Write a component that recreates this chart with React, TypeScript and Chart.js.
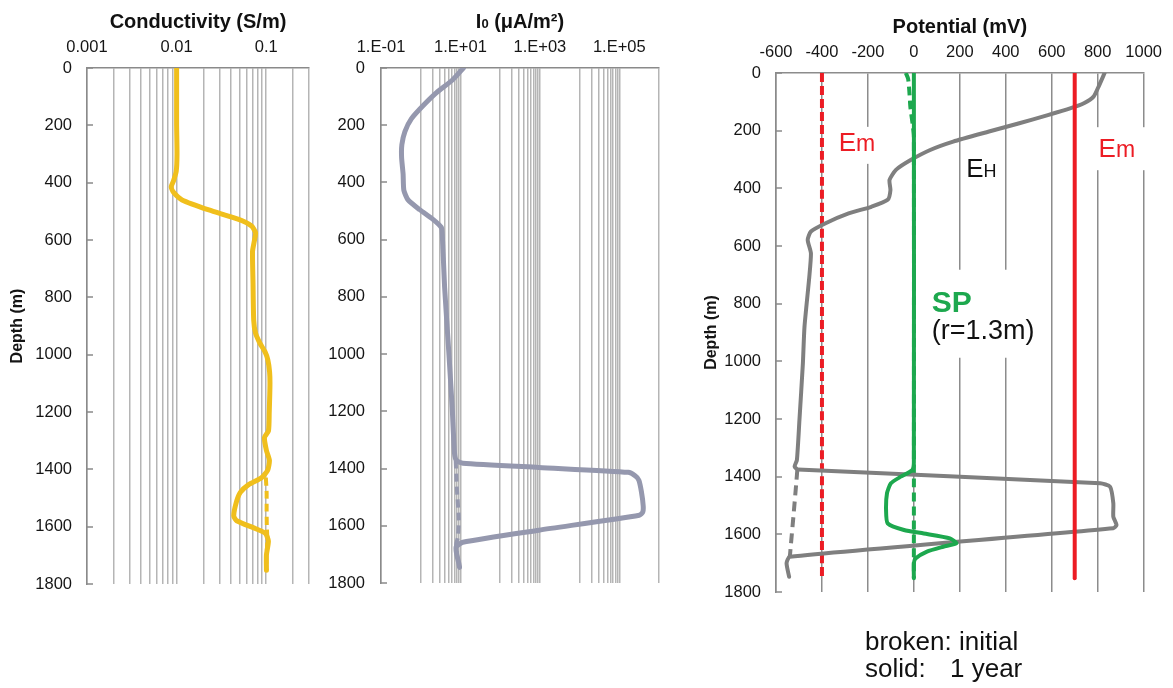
import React, { useEffect, useRef } from 'react';
import { Chart, registerables } from 'chart.js';

Chart.register(...registerables);

const FONT = '"Liberation Sans", Arial, Helvetica, sans-serif';
const TEXT = '#151515';
Chart.defaults.font.family = FONT;
Chart.defaults.color = TEXT;

// ---------------- shared depth axis ----------------
const depthTicks = [0, 200, 400, 600, 800, 1000, 1200, 1400, 1600, 1800];

// ---------------- Conductivity (S/m) ----------------
const condGridValues = [0.001, 0.002, 0.003, 0.004, 0.005, 0.006, 0.007, 0.008, 0.009, 0.01, 0.02, 0.03, 0.04, 0.05, 0.06, 0.07, 0.08, 0.09, 0.1, 0.2, 0.3];
const condMajor = [0.001, 0.01, 0.1];
const condMajorLabels = ['0.001', '0.01', '0.1'];
const condDepth1y = [0, 100, 200, 300, 360, 395, 415, 435, 460, 495, 528, 551, 575, 605, 640, 750, 880, 925, 960, 990, 1017, 1060, 1107, 1200, 1265, 1289, 1334, 1368, 1402, 1429, 1453, 1480, 1514, 1562, 1579, 1606, 1623, 1650, 1698, 1752];
const cond1y = [0.01, 0.01, 0.01, 0.0101, 0.0099, 0.0092, 0.0087, 0.0093, 0.0115, 0.0229, 0.0493, 0.0686, 0.076, 0.0735, 0.0703, 0.0712, 0.0725, 0.076, 0.085, 0.097, 0.104, 0.109, 0.11, 0.108, 0.106, 0.0955, 0.1005, 0.1085, 0.104, 0.0885, 0.0636, 0.0514, 0.0464, 0.0434, 0.0468, 0.0754, 0.098, 0.1057, 0.1005, 0.1005];
const condDepthInit = [1429, 1480, 1540, 1600, 1650, 1700, 1752];
const condInit = [0.099, 0.101, 0.101, 0.1015, 0.103, 0.1005, 0.1005];

// ---------------- I0 (uA/m2) ----------------
const ioGridValues = [0.1, 1, 2, 3, 4, 5, 6, 7, 8, 9, 10, 100, 200, 300, 400, 500, 600, 700, 800, 900, 1000, 10000, 20000, 30000, 40000, 50000, 60000, 70000, 80000, 90000, 100000, 1000000];
const ioMajor = [0.1, 10, 1000, 100000];
const ioMajorLabels = ['1.E-01', '1.E+01', '1.E+03', '1.E+05'];
const ioDepth1y = [0, 41, 86, 132, 177, 222, 268, 313, 370, 427, 461, 495, 528, 557, 585, 767, 994, 1187, 1346, 1372, 1381, 1396, 1413, 1425, 1440, 1480, 1530, 1552, 1563, 1615, 1657, 1674, 1697, 1731, 1745];
const io1y = [11.9, 6.4, 2.5, 1.14, 0.585, 0.4, 0.335, 0.33, 0.36, 0.376, 0.48, 0.94, 2.0, 3.3, 3.5, 4.0, 5.1, 6.2, 7.1, 8, 11.5, 944, 168000, 250000, 310000, 360000, 400000, 390000, 320000, 944, 11.5, 7.8, 8.0, 9.1, 9.5];
const ioDepthInit = [1372, 1465, 1579, 1640, 1665, 1700, 1745];
const ioInit = [7.6, 8.1, 9.1, 8.6, 7.8, 8.2, 9.5];

// ---------------- Potential (mV) ----------------
const potTicks = [-600, -400, -200, 0, 200, 400, 600, 800, 1000];
const ehDepth1y = [0, 47, 82, 105, 122, 146, 175, 203, 238, 267, 302, 336, 371, 406, 440, 464, 487, 521, 550, 579, 625, 706, 880, 1007, 1204, 1342, 1365, 1375, 1423, 1435, 1492, 1539, 1568, 1579, 1678, 1700, 1747];
const eh1y = [830, 804, 782, 740, 683, 583, 455, 327, 171, 71, -14, -78, -106, -102, -114, -185, -284, -384, -448, -462, -448, -455, -476, -483, -498, -509, -519, -505, 811, 854, 868, 868, 882, 868, -540, -554, -543];
const ehDepthInit = [1375, 1414, 1527, 1643, 1680];
const ehInit = [-507, -511, -523, -536, -540];
const spDepth1y = [0, 1350, 1377, 1400, 1423, 1458, 1516, 1562, 1585, 1597, 1614, 1631, 1643, 1660, 1684, 1700, 1752];
const sp1y = [0, 0, -7, -57, -100, -117, -121, -114, -43, 43, 157, 185, 128, 57, 7, 0, 0];
const spDepthInit = [0, 20, 60, 120, 180, 220, 1752];
const spInit = [-35, -25, -20, -15, -5, 0, 0];
const emDepth = [0, 1752];
const em1y = [700, 700];
const emInit = [-400, -400];

// ---------------- colours ----------------
const YELLOW = '#F0BF1C';
const IOCOL = '#9598AE';
const EHCOL = '#7f7f7f';
const RED = '#EC1C24';
const GREEN = '#1DA84E';
const LIGHTGRID = '#b5b5b5';
const DARKGRID = '#8c8c8c';
const AXIS = '#8a8a8a';

type Pt = { x: number; y: number };
const pts = (depths: number[], vals: number[]): Pt[] => depths.map((d, i) => ({ x: vals[i], y: d }));

type Run = { text: string; font: string };
function drawRuns(ctx: CanvasRenderingContext2D, runs: Run[], x: number, y: number, color: string, align: 'left' | 'center' = 'left') {
  let total = 0;
  for (const r of runs) { ctx.font = r.font; total += ctx.measureText(r.text).width; }
  let cx = align === 'center' ? x - total / 2 : x;
  ctx.fillStyle = color;
  ctx.textAlign = 'left';
  ctx.textBaseline = 'alphabetic';
  for (const r of runs) { ctx.font = r.font; ctx.fillText(r.text, cx, y); cx += ctx.measureText(r.text).width; }
  return total;
}

function drawInnerTicks(chart: any, color: string) {
  const { ctx, chartArea } = chart;
  const ys = chart.scales.y;
  ctx.save();
  ctx.strokeStyle = color;
  ctx.lineWidth = 1.5;
  for (const d of depthTicks) {
    const y = Math.round(ys.getPixelForValue(d));
    ctx.beginPath();
    ctx.moveTo(chartArea.left, y);
    ctx.lineTo(chartArea.left + 6, y);
    ctx.stroke();
  }
  ctx.restore();
}

const majorLabel = (major: number[], labels: string[]) => (v: any) => {
  const n = Number(v);
  const i = major.findIndex((m) => Math.abs(m - n) / m < 1e-6);
  return i >= 0 ? labels[i] : '';
};

interface PanelCfg {
  left: number; width: number; height: number;
  pad: { left: number; right: number; top: number; bottom: number };
  yWidth: number; xHeight: number; yTickPad: number; xTickPad: number;
  yTitle?: string; yTitlePad?: number;
  xType: 'linear' | 'logarithmic'; xMin: number; xMax: number;
  xGrid: number[]; xLabel: (v: any) => string;
  gridColor: string;
  datasets: any[];
  before?: (chart: any) => void;
  after?: (chart: any) => void;
}

const lineDs = (data: Pt[], color: string, width: number, dash?: number[]) => ({
  data, showLine: true, borderColor: color, backgroundColor: color, borderWidth: width,
  borderDash: dash || [], pointRadius: 0, tension: 0.2, borderCapStyle: dash ? 'butt' : 'round', borderJoinStyle: 'round',
});

const panel1: PanelCfg = {
  left: 0, width: 320, height: 609,
  pad: { left: 0, right: 9, top: 0, bottom: 12 },
  yWidth: 87, xHeight: 68, yTickPad: 15, xTickPad: 11,
  yTitle: 'Depth (m)', yTitlePad: 8,
  xType: 'logarithmic', xMin: 0.001, xMax: 0.3,
  xGrid: condGridValues, xLabel: majorLabel(condMajor, condMajorLabels),
  gridColor: LIGHTGRID,
  datasets: [
    lineDs(pts(condDepth1y, cond1y), YELLOW, 5),
    lineDs(pts(condDepthInit, condInit), YELLOW, 4, [8, 5]),
  ],
  after: (chart) => {
    const { ctx, chartArea } = chart;
    drawInnerTicks(chart, AXIS);
    drawRuns(ctx, [{ text: 'Conductivity (S/m)', font: `bold 20px ${FONT}` }], (chartArea.left + chartArea.right) / 2, 28, '#111', 'center');
  },
};

const panel2: PanelCfg = {
  left: 320, width: 350, height: 609,
  pad: { left: 0, right: 9, top: 0, bottom: 12 },
  yWidth: 61, xHeight: 68, yTickPad: 16, xTickPad: 11,
  xType: 'logarithmic', xMin: 0.1, xMax: 1000000,
  xGrid: ioGridValues, xLabel: majorLabel(ioMajor, ioMajorLabels),
  gridColor: LIGHTGRID,
  datasets: [
    lineDs(pts(ioDepth1y, io1y), IOCOL, 5),
    lineDs(pts(ioDepthInit, ioInit), IOCOL, 4, [8, 5]),
  ],
  after: (chart) => {
    const { ctx, chartArea } = chart;
    drawInnerTicks(chart, AXIS);
    drawRuns(ctx, [
      { text: 'I', font: `bold 20px ${FONT}` },
      { text: '0', font: `bold 13px ${FONT}` },
      { text: ' (\u03BCA/m\u00B2)', font: `bold 20px ${FONT}` },
    ], (chartArea.left + chartArea.right) / 2, 28, '#111', 'center');
  },
};

const panel3: PanelCfg = {
  left: 680, width: 493, height: 688,
  pad: { left: 0, right: 22, top: 0, bottom: 96 },
  yWidth: 96, xHeight: 73, yTickPad: 15, xTickPad: 11,
  yTitle: 'Depth (m)', yTitlePad: 22,
  xType: 'linear', xMin: -600, xMax: 1000,
  xGrid: potTicks, xLabel: (v: any) => String(v),
  gridColor: DARKGRID,
  datasets: [
    lineDs(pts(spDepth1y, sp1y), GREEN, 4),
    lineDs(pts(emDepth, em1y), RED, 4),
    lineDs(pts(ehDepth1y, eh1y), EHCOL, 4),
    lineDs(pts(spDepthInit, spInit), GREEN, 4, [9, 5]),
    lineDs(pts(emDepth, emInit), RED, 4, [9, 4]),
    lineDs(pts(ehDepthInit, ehInit), EHCOL, 4, [10, 6]),
  ],
  before: (chart) => {
    const { ctx } = chart;
    const xs = chart.scales.x;
    const ys = chart.scales.y;
    ctx.save();
    // anchors in data coordinates (mV, depth)
    const lEmX = xs.getPixelForValue(-327), lEmY = ys.getPixelForValue(270);
    const rEmX = xs.getPixelForValue(804), rEmY = ys.getPixelForValue(292);
    const ehX = xs.getPixelForValue(228), ehY = ys.getPixelForValue(360);
    const spX = xs.getPixelForValue(78), spY = ys.getPixelForValue(828);
    const rX = xs.getPixelForValue(78), rY = ys.getPixelForValue(924);
    ctx.fillStyle = '#ffffff';
    ctx.fillRect(lEmX - 5, lEmY - 24, 52, 37);
    ctx.fillRect(rEmX - 7, rEmY - 30, 60, 43);
    ctx.fillRect(spX - 7, spY - 42, 122, 88);
    drawRuns(ctx, [{ text: 'E', font: `26px ${FONT}` }, { text: 'm', font: `23px ${FONT}` }], lEmX, lEmY, RED);
    drawRuns(ctx, [{ text: 'E', font: `26px ${FONT}` }, { text: 'm', font: `23px ${FONT}` }], rEmX, rEmY, RED);
    drawRuns(ctx, [{ text: 'E', font: `26px ${FONT}` }, { text: 'H', font: `18px ${FONT}` }], ehX, ehY, '#111');
    drawRuns(ctx, [{ text: 'SP', font: `bold 30px ${FONT}` }], spX, spY, GREEN);
    drawRuns(ctx, [{ text: '(r=1.3m)', font: `27px ${FONT}` }], rX, rY, '#111');
    ctx.restore();
  },
  after: (chart) => {
    const { ctx, chartArea } = chart;
    drawInnerTicks(chart, AXIS);
    drawRuns(ctx, [{ text: 'Potential (mV)', font: `bold 20px ${FONT}` }], (chartArea.left + chartArea.right) / 2, 33, '#111', 'center');
    drawRuns(ctx, [{ text: 'broken: initial', font: `26px ${FONT}` }], 185, 650, '#111');
    drawRuns(ctx, [{ text: 'solid:', font: `26px ${FONT}` }], 185, 677, '#111');
    drawRuns(ctx, [{ text: '1 year', font: `26px ${FONT}` }], 270, 677, '#111');
  },
};

function Panel({ cfg }: { cfg: PanelCfg }) {
  const ref = useRef<HTMLCanvasElement | null>(null);
  useEffect(() => {
    const canvas = ref.current;
    if (!canvas) return;
    const chart = new Chart(canvas, {
      type: 'scatter',
      data: { datasets: cfg.datasets },
      options: {
        responsive: false,
        animation: false,
        devicePixelRatio: 1,
        layout: { padding: cfg.pad },
        plugins: { legend: { display: false }, tooltip: { enabled: false }, title: { display: false } },
        scales: {
          x: {
            type: cfg.xType,
            position: 'top',
            min: cfg.xMin,
            max: cfg.xMax,
            afterBuildTicks: (s: any) => { s.ticks = cfg.xGrid.map((v) => ({ value: v })); },
            afterFit: (s: any) => { s.height = cfg.xHeight; },
            ticks: {
              autoSkip: false, maxRotation: 0, minRotation: 0, padding: cfg.xTickPad,
              font: { family: FONT, size: 16.5 }, color: TEXT,
              callback: (v: any) => cfg.xLabel(v),
            },
            grid: { color: cfg.gridColor, lineWidth: 1.5, drawTicks: false },
            border: { display: true, color: cfg.gridColor === DARKGRID ? DARKGRID : AXIS, width: 1.5 },
          },
          y: {
            type: 'linear',
            position: 'left',
            reverse: true,
            min: 0,
            max: 1800,
            afterBuildTicks: (s: any) => { s.ticks = depthTicks.map((v) => ({ value: v })); },
            afterFit: (s: any) => { s.width = cfg.yWidth; },
            ticks: { padding: cfg.yTickPad, font: { family: FONT, size: 16.5 }, color: TEXT, callback: (v: any) => String(v) },
            grid: { drawOnChartArea: false, drawTicks: false },
            border: { display: true, color: AXIS, width: 1.5 },
            title: cfg.yTitle
              ? { display: true, text: cfg.yTitle, color: TEXT, font: { family: FONT, size: 16, weight: 'bold' }, padding: { top: cfg.yTitlePad || 0, bottom: 0 } }
              : { display: false },
          },
        },
      } as any,
      plugins: [{
        id: 'overlay' + cfg.left,
        beforeDatasetsDraw: (chart: any) => { if (cfg.before) cfg.before(chart); },
        afterDraw: (chart: any) => { if (cfg.after) cfg.after(chart); },
      }],
    } as any);
    return () => chart.destroy();
  }, [cfg]);
  return (
    <canvas
      ref={ref}
      width={cfg.width}
      height={cfg.height}
      style={{ position: 'absolute', left: cfg.left, top: 0, width: cfg.width, height: cfg.height }}
    />
  );
}

export default function App() {
  return (
    <div style={{ position: 'absolute', left: 0, top: 0, width: 1173, height: 688, background: '#ffffff', overflow: 'hidden' }}>
      <Panel cfg={panel1} />
      <Panel cfg={panel2} />
      <Panel cfg={panel3} />
    </div>
  );
}
